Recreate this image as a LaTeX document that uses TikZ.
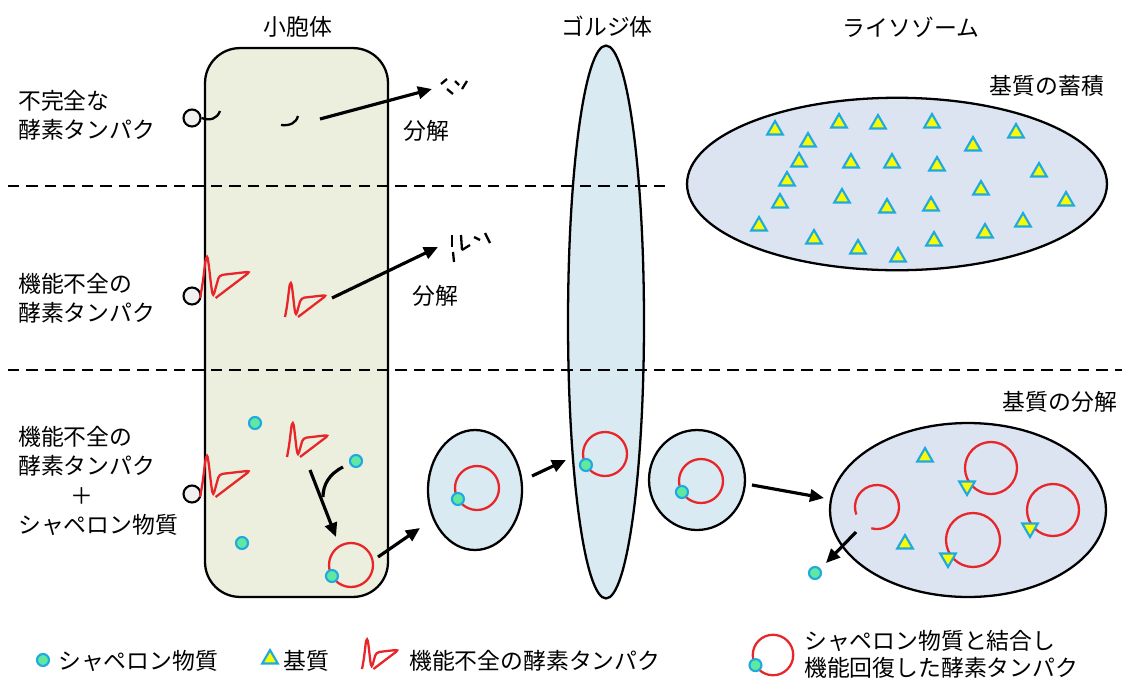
\documentclass[tikz,border=0pt]{standalone}
\usepackage{fontspec}
\setmainfont{Noto Sans CJK JP}
\usetikzlibrary{shapes.geometric,arrows.meta}

\definecolor{ergreen}{RGB}{236,238,222}
\definecolor{golgiblue}{RGB}{218,234,242}
\definecolor{lysoblue}{RGB}{220,228,241}
\definecolor{enzred}{RGB}{232,38,42}
\definecolor{chapfill}{RGB}{96,232,160}
\definecolor{chapline}{RGB}{30,170,225}
\definecolor{subyellow}{RGB}{250,250,0}

\begin{document}
\begin{tikzpicture}[x=0.02cm,y=-0.02cm,
    every node/.style={font=\fontsize{13}{16.7}\selectfont},
    organelle/.style={draw,line width=1.3pt,inner sep=0},
    divider/.style={dashed,dash pattern=on 6.5pt off 4pt,line width=1.1pt},
    move/.style={-{Triangle[length=8pt,width=7pt]},line width=1.8pt},
    enzyme/.style={enzred,line width=1.3pt,rounded corners=2pt},
    chaperone/.style={circle,fill=chapfill,draw=chapline,line width=1.2pt,inner sep=0,minimum size=0.24cm},
    substrate/.style={regular polygon,regular polygon sides=3,fill=subyellow,draw=chapline,line width=1.2pt,inner sep=0,minimum size=0.36cm},
    anchorring/.style={circle,fill=gray!12,draw,line width=1.2pt,inner sep=0,minimum size=0.34cm},
    misfold/.pic={\draw[enzyme] (0,0) .. controls (3,-14) and (4,-30) .. (6,-36)
        .. controls (8,-24) and (9,-10) .. (11,-1) -- (16,-19) -- (42,-22) -- (13,0);},
    rescued/.pic={\draw[enzred,line width=1.3pt] (0,0) circle [radius=22];
      \node[chaperone] at (150:22) {};}
  ]
  \useasboundingbox (0,0) rectangle (1136,680);

  % titles
  \node (ertitle) at (298,27) {小胞体};
  \node (golgititle) at (607,27) {ゴルジ体};
  \node (lysotitle) at (911,27) {ライソゾーム};

  % organelles
  \node[organelle,fill=ergreen,rounded corners=0.7cm,minimum width=3.66cm,minimum height=10.98cm] (er) at (296.5,322.5) {};
  \node[organelle,ellipse,fill=golgiblue,minimum width=1.52cm,minimum height=11.06cm] (golgi) at (606,322) {};
  \node[organelle,ellipse,fill=golgiblue,minimum width=1.88cm,minimum height=2.4cm] (ves1) at (475,490) {};
  \node[organelle,ellipse,fill=golgiblue,minimum width=1.92cm,minimum height=2.0cm] (ves2) at (697,480) {};
  \node[organelle,ellipse,fill=lysoblue,minimum width=8.4cm,minimum height=3.45cm] (lysofull) at (897,184) {};
  \node[organelle,ellipse,fill=lysoblue,minimum width=5.52cm,minimum height=3.48cm] (lysowork) at (968,510) {};

  \draw[divider] (8,186) -- (672,186);
  \draw[divider] (8,370) -- (1122,370);

  % row 1: incomplete enzyme
  \node[anchor=west,align=left] (lbl1) at (12,115) {不完全な\\酵素タンパク};
  \node[anchorring] (ring1) at (192,118) {};
  \draw[line width=1.3pt] (ring1.east) .. controls (210,121) and (217,119) .. (220,111);
  \draw[line width=1.3pt] (281,125) .. controls (290,126) and (296,123) .. (298,116);
  \coordinate (cut1a) at (320,119);
  \coordinate (cut1b) at (432,89);
  \draw[move] (cut1a) -- (cut1b);
  \foreach \a/\b in {{(441,84)}/{(447,79)},{(447,89)}/{(453,94)},{(455,81)}/{(459,85)},{(462,89)}/{(467,81)}}
    \draw[line width=1.3pt] \a -- \b;
  \node (split1) at (426,131) {分解};

  % row 2: misfolded enzyme
  \node[anchor=west,align=left] (lbl2) at (12,298) {機能不全の\\酵素タンパク};
  \node[anchorring] (ring2) at (192,296) {};
  \pic[scale=1.2] at (200,298) {misfold};
  \pic at (285,317) {misfold};
  \coordinate (cut2a) at (332,298);
  \coordinate (cut2b) at (438,247);
  \draw[move] (cut2a) -- (cut2b);
  \foreach \a/\b in {{(452,235)}/{(452,247)},{(453,252)}/{(454,262)},{(461,235)}/{(462,250)},{(462,250)}/{(470,245)},{(474,237)}/{(480,240)},{(485,233)}/{(490,243)}}
    \draw[line width=1.3pt] \a -- \b;
  \node (split2) at (435,296) {分解};

  % row 3: misfolded enzyme with chaperone
  \node[anchor=west,align=left] (lbl3) at (12,481) {機能不全の\\酵素タンパク\\\hspace*{1.04cm}＋\\シャペロン物質};
  \node[anchorring] (ring3) at (192,494) {};
  \pic[scale=1.2] at (200,497) {misfold};
  \pic at (287,457) {misfold};
  \foreach \p in {(255,423),(356,461),(242,543)}
    \node[chaperone] at \p {};
  \coordinate (bindl) at (310,470);
  \coordinate (bindr) at (343,467);
  \coordinate (bindj) at (323,497);
  \coordinate (bindend) at (336,537);
  \draw[move] (bindl) -- (bindend);
  \draw[line width=1.8pt] (bindr) .. controls (329,474) and (323,485) .. (bindj);
  \pic at (351,565) {rescued};

  % transport to the lysosome
  \pic at (477,488) {rescued};
  \pic at (605,454) {rescued};
  \pic at (701,481) {rescued};
  \coordinate (exitER) at (378,557);
  \coordinate (toves1) at (420,528);
  \draw[move] (exitER) -- (toves1);
  \coordinate (exitves1) at (532,476);
  \coordinate (togolgi) at (566,460);
  \draw[move] (exitves1) -- (togolgi);
  \coordinate (exitves2) at (752,485);
  \coordinate (tolyso) at (824,498);
  \draw[move] (exitves2) -- (tolyso);

  % lysosome with stored substrate
  \node (storetitle) at (1047,86) {基質の蓄積};
  \foreach \p in {(775,130),(839,123),(878,124),(932,123),(1016,133),(808,142),(973,146),
                  (799,162),(851,163),(892,163),(937,166),(1039,172),(787,181),(981,190),
                  (780,203),(842,198),(887,208),(931,206),(1066,201),(759,226),(1023,222),
                  (985,233),(814,239),(858,249),(934,241),(898,257)}
    \node[substrate] at \p {};

  % lysosome breaking substrate down
  \node (breaktitle) at (1060,402) {基質の分解};
  \node[substrate] at (925,457) {};
  \node[substrate] at (905,544) {};
  \draw[enzred,line width=1.3pt] (877,507) ++(160:22) arc [start angle=160,end angle=465,radius=22];
  \draw[enzred,line width=1.3pt] (991,468) circle [radius=26];
  \draw[enzred,line width=1.3pt] (1053,510) circle [radius=26];
  \draw[enzred,line width=1.3pt] (973,540) circle [radius=27];
  \foreach \p in {(967,486),(1030,528),(948,558)}
    \node[substrate,shape border rotate=180] at \p {};
  \coordinate (release) at (856,532);
  \coordinate (released) at (826,563);
  \draw[move] (release) -- (released);
  \node[chaperone] (freechap) at (815,573) {};

  % key
  \node[chaperone] (keychap) at (43,660) {};
  \node[anchor=west] (keychaptxt) at (52,661) {シャペロン物質};
  \node[substrate] (keysub) at (270,659) {};
  \node[anchor=west] (keysubtxt) at (277,661) {基質};
  \pic[scale=0.88] at (362,669) {misfold};
  \node[anchor=west] (keymisfold) at (403,661) {機能不全の酵素タンパク};
  \pic[scale=0.92] at (773,655) {rescued};
  \node[anchor=west,align=left,font=\fontsize{13}{15.5}\selectfont] (keyrescued) at (798,654) {シャペロン物質と結合し\\機能回復した酵素タンパク};
\end{tikzpicture}
\end{document}
